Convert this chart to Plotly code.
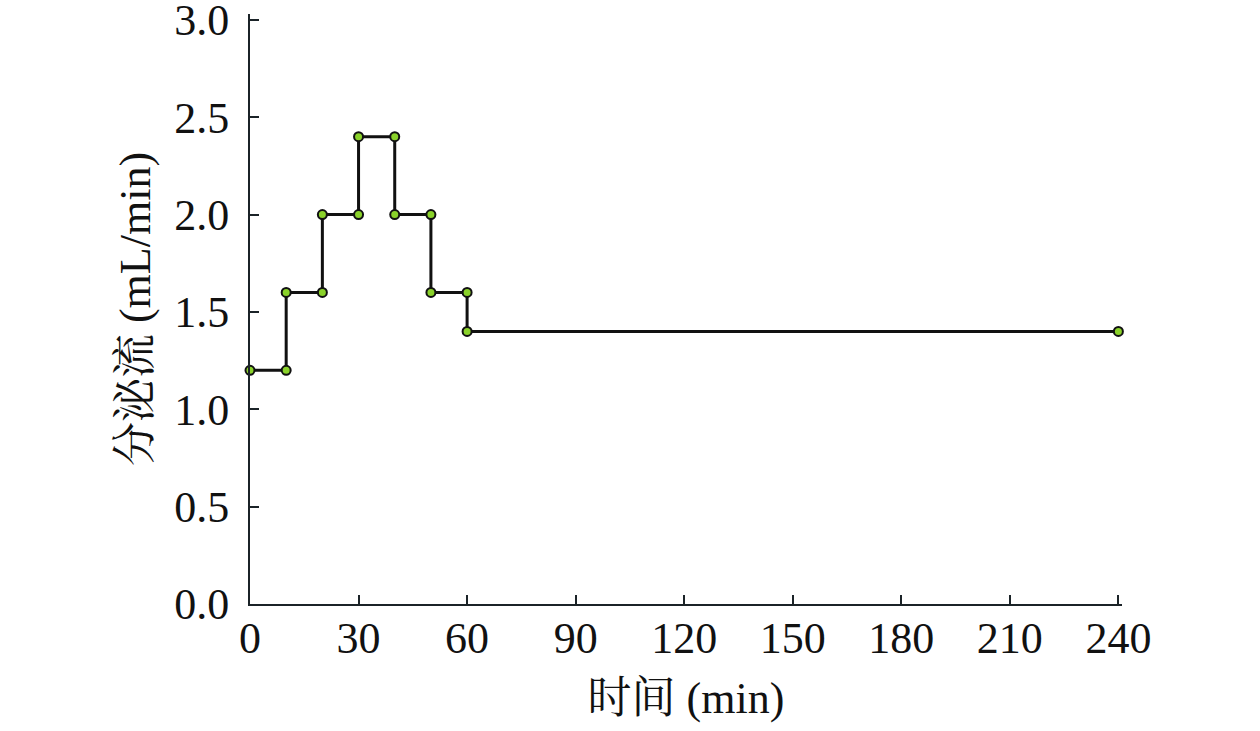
import plotly.graph_objects as go

time_min = [0, 10, 10, 20, 20, 30, 30, 40, 40, 50, 50, 60, 60, 240]
flow = [1.2, 1.2, 1.6, 1.6, 2.0, 2.0, 2.4, 2.4, 2.0, 2.0, 1.6, 1.6, 1.4, 1.4]
x_ticks = [0, 30, 60, 90, 120, 150, 180, 210, 240]
y_ticks = [0.0, 0.5, 1.0, 1.5, 2.0, 2.5, 3.0]
y_tick_text = [f"{v:.1f}" for v in y_ticks]

font_family = "Liberation Serif, Times New Roman, Noto Serif CJK SC, Noto Sans CJK SC"
FS = 44

fig = go.Figure(go.Scatter(
    x=time_min, y=flow, mode="lines+markers",
    line=dict(color="#111111", width=3),
    marker=dict(size=9, color="#8ad22a", line=dict(color="#111111", width=2)),
    showlegend=False, cliponaxis=False,
))

fig.update_layout(
    width=1260, height=731,
    margin=dict(l=250, r=138, t=14, b=127, autoexpand=False),
    plot_bgcolor="white", paper_bgcolor="white",
    font=dict(family=font_family, size=FS, color="#111111"),
    xaxis=dict(
        range=[0, 241], tickvals=x_ticks, ticktext=[str(v) for v in x_ticks],
        showgrid=False, zeroline=False, showline=True, linecolor="#1b2328", linewidth=2,
        ticks="inside", ticklen=9, tickwidth=2, tickcolor="#1b2328",
        ticklabelstandoff=-6, automargin=False, ticklabeloverflow="allow",
        title=dict(text="时间 (min)", font=dict(size=FS, family=font_family), standoff=20),
    ),
    yaxis=dict(
        range=[0, 3.03], tickvals=y_ticks, ticktext=y_tick_text,
        showgrid=False, zeroline=False, showline=True, linecolor="#1b2328", linewidth=2,
        ticks="inside", ticklen=9, tickwidth=2, tickcolor="#1b2328",
        ticklabelstandoff=10, automargin=False, ticklabeloverflow="allow",
        title=dict(text="分泌流 (mL/min)", font=dict(size=FS, family=font_family), standoff=10),
    ),
)

fig.write_html("out.html", config={"displayModeBar": False},
               post_script="document.body.style.margin='0';")
